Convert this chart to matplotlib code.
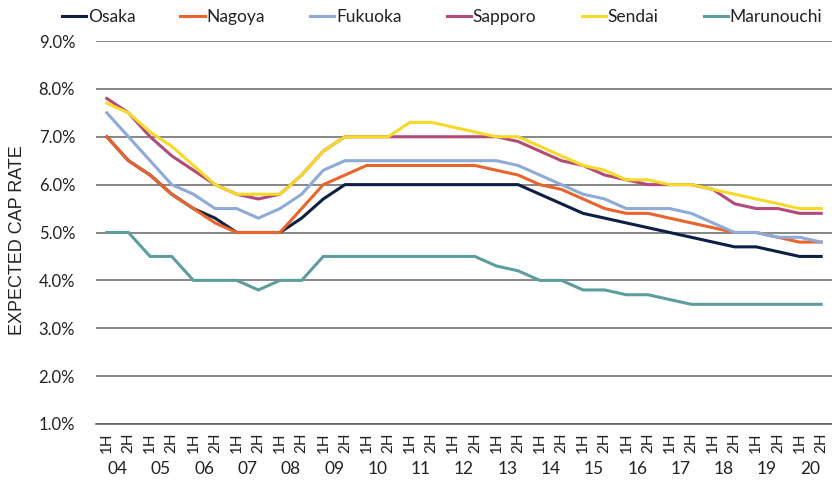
import matplotlib
matplotlib.use("Agg")
import matplotlib.pyplot as plt
import numpy as np

years = ["04", "05", "06", "07", "08", "09", "10", "11", "12",
         "13", "14", "15", "16", "17", "18", "19", "20"]
halves = ["1H", "2H"]

osaka = [7.0, 6.5, 6.2, 5.8, 5.5, 5.3, 5.0, 5.0, 5.0, 5.3, 5.7, 6.0,
         6.0, 6.0, 6.0, 6.0, 6.0, 6.0, 6.0, 6.0, 5.8, 5.6, 5.4, 5.3,
         5.2, 5.1, 5.0, 4.9, 4.8, 4.7, 4.7, 4.6, 4.5, 4.5]
nagoya = [7.0, 6.5, 6.2, 5.8, 5.5, 5.2, 5.0, 5.0, 5.0, 5.5, 6.0, 6.2,
          6.4, 6.4, 6.4, 6.4, 6.4, 6.4, 6.3, 6.2, 6.0, 5.9, 5.7, 5.5,
          5.4, 5.4, 5.3, 5.2, 5.1, 5.0, 5.0, 4.9, 4.8, 4.8]
fukuoka = [7.5, 7.0, 6.5, 6.0, 5.8, 5.5, 5.5, 5.3, 5.5, 5.8, 6.3, 6.5,
           6.5, 6.5, 6.5, 6.5, 6.5, 6.5, 6.5, 6.4, 6.2, 6.0, 5.8, 5.7,
           5.5, 5.5, 5.5, 5.4, 5.2, 5.0, 5.0, 4.9, 4.9, 4.8]
sapporo = [7.8, 7.5, 7.0, 6.6, 6.3, 6.0, 5.8, 5.7, 5.8, 6.2, 6.7, 7.0,
           7.0, 7.0, 7.0, 7.0, 7.0, 7.0, 7.0, 6.9, 6.7, 6.5, 6.4, 6.2,
           6.1, 6.0, 6.0, 6.0, 5.9, 5.6, 5.5, 5.5, 5.4, 5.4]
sendai = [7.7, 7.5, 7.1, 6.8, 6.4, 6.0, 5.8, 5.8, 5.8, 6.2, 6.7, 7.0,
          7.0, 7.0, 7.3, 7.3, 7.2, 7.1, 7.0, 7.0, 6.8, 6.6, 6.4, 6.3,
          6.1, 6.1, 6.0, 6.0, 5.9, 5.8, 5.7, 5.6, 5.5, 5.5]
marunouchi = [5.0, 5.0, 4.5, 4.5, 4.0, 4.0, 4.0, 3.8, 4.0, 4.0, 4.5, 4.5,
              4.5, 4.5, 4.5, 4.5, 4.5, 4.5, 4.3, 4.2, 4.0, 4.0, 3.8, 3.8,
              3.7, 3.7, 3.6, 3.5, 3.5, 3.5, 3.5, 3.5, 3.5, 3.5]

series = [
    ("Osaka", osaka, "#0e1f44"),
    ("Nagoya", nagoya, "#e8652b"),
    ("Fukuoka", fukuoka, "#8eaad8"),
    ("Sapporo", sapporo, "#b24a7c"),
    ("Sendai", sendai, "#f7d928"),
    ("Marunouchi", marunouchi, "#5e9d9e"),
]

yticks = [1, 2, 3, 4, 5, 6, 7, 8, 9]

FONT = "Lato"
fig = plt.figure(figsize=(8.32, 4.93), dpi=100)
ax = fig.add_axes([96 / 832, 1 - 424 / 493, 736 / 832, 383 / 493])

n = len(years) * len(halves)
x = np.arange(n)
for name, vals, col in series:
    ax.plot(x, vals, color=col, lw=2.2, label=name, solid_joinstyle="miter")

ax.set_xlim(-0.5, n - 0.5)
ax.set_ylim(1, 9)
ax.set_yticks(yticks)
ax.set_yticklabels([f"{v:.1f}%" for v in yticks], fontfamily=FONT, fontsize=12, color="#222222")
ax.yaxis.grid(True, color="#666666", lw=1.1)
ax.set_axisbelow(True)
for s in ["left", "right", "top"]:
    ax.spines[s].set_visible(False)
ax.spines["bottom"].set_color("#666666")
ax.spines["bottom"].set_linewidth(1.2)
ax.tick_params(axis="y", length=0, pad=15)

ax.set_xticks(x)
ax.set_xticklabels(halves * len(years), rotation=90, fontfamily=FONT,
                   fontsize=11, color="#222222")
ax.tick_params(axis="x", length=0, pad=6)

for i, yr in enumerate(years):
    ax.text(2 * i + 0.5, -0.118, yr, transform=ax.get_xaxis_transform(),
            ha="center", va="center", fontfamily=FONT, fontsize=12.5, color="#222222")

fig.text(18 / 832, 1 - 240 / 493, "EXPECTED CAP RATE", rotation=90,
         ha="center", va="center", fontfamily="Liberation Sans", fontsize=13, color="#222222")

leg = fig.legend(loc="center", bbox_to_anchor=(442 / 832, 1 - 17 / 493), ncol=6,
                 frameon=False, handlelength=1.4, handletextpad=0.1, columnspacing=2.6,
                 prop={"family": FONT, "size": 12.5})
for t in leg.get_texts():
    t.set_color("#222222")

fig.savefig("out.png", dpi=100)
